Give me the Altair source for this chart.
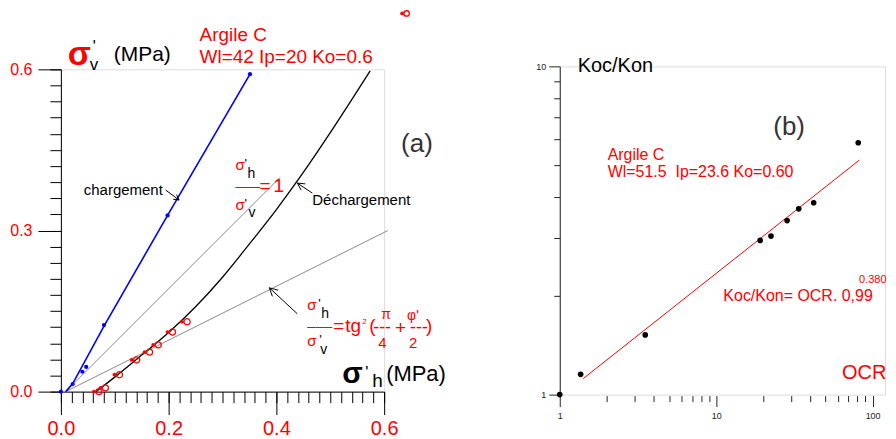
import math
import altair as alt
import pandas as pd

FONT = "Liberation Sans"
RED = "#ff0000"
BLUE = "#0000ff"
BLACK = "#000000"

# ---------------- Panel (a) data ----------------
blue_x = [0.0, 0.022, 0.040, 0.047, 0.080, 0.198, 0.351]
blue_y = [0.0, 0.014, 0.037, 0.046, 0.124, 0.328, 0.591]
charge_x = [0.009, 0.022, 0.080, 0.198, 0.351]
charge_y = [0.0, 0.015, 0.122, 0.328, 0.591]
red_x = [0.066, 0.078, 0.104, 0.136, 0.160, 0.176, 0.2025, 0.2296]
red_y = [0.0, 0.007, 0.0315, 0.059, 0.0735, 0.087, 0.111, 0.130]
dech_x = [0.065, 0.10, 0.15, 0.20, 0.25, 0.30, 0.35, 0.40, 0.45, 0.50, 0.574]
dech_y = [0.0, 0.027, 0.068, 0.110, 0.158, 0.213, 0.275, 0.339, 0.408, 0.482, 0.597]
k1_x = [0.009, 0.407]
k1_y = [0.0, 0.399]
kp_x = [0.009, 0.607]
kp_y = [0.0, 0.300]
a_major_x = [0.0, 0.2, 0.4, 0.6]
a_minor_x = [round(0.02 * i, 2) for i in range(31)]
a_major_y = [0.0, 0.3, 0.6]
a_minor_y = [round(0.03 * i, 2) for i in range(21)]

# ---------------- Panel (b) data ----------------
ocr = [1.0, 1.36, 3.52, 19.1, 22.4, 28.4, 33.7, 42.0, 80.9]
ratio = [1.0, 1.153, 1.52, 2.95, 3.04, 3.39, 3.68, 3.84, 5.85]
fit_ocr = [1.41, 82.2]
fit_ratio = [1.118, 5.18]
b_major_x = [1, 10, 100]
b_minor_x = [2, 3, 4, 5, 6, 7, 8, 9, 20, 30, 40, 50, 60, 70, 80, 90]
b_major_y = [1, 10]
b_minor_y = [2, 3, 4, 5, 6, 7, 8, 9]

WA, HA = 324, 323
WB, HB = 326, 329
OA = (60, 69)
OB = (560, 66)


def txt(s, px, py, origin, size=15, color=BLACK, weight="normal", align="left"):
    return alt.Chart(pd.DataFrame({"t": [s]})).mark_text(
        font=FONT, fontSize=size, color=color, fontWeight=weight,
        align=align, baseline="alphabetic"
    ).encode(x=alt.value(px - origin[0]), y=alt.value(py - origin[1]), text="t:N")


def seg(p1, p2, origin, color=BLACK, width=1.0):
    return alt.Chart(pd.DataFrame({"a": [0]})).mark_rule(color=color, strokeWidth=width).encode(
        x=alt.value(p1[0] - origin[0]), y=alt.value(p1[1] - origin[1]),
        x2=alt.value(p2[0] - origin[0]), y2=alt.value(p2[1] - origin[1]))


def arrow(tail, head, origin, hl=7.0, ang=28):
    dx, dy = head[0] - tail[0], head[1] - tail[1]
    L = math.hypot(dx, dy)
    bx, by = -dx / L, -dy / L
    out = [seg(tail, head, origin)]
    for s in (1, -1):
        a = math.radians(ang) * s
        rx = bx * math.cos(a) - by * math.sin(a)
        ry = bx * math.sin(a) + by * math.cos(a)
        out.append(seg(head, (head[0] + hl * rx, head[1] + hl * ry), origin))
    return out


# ---------------- Panel (a) ----------------
xs_a = alt.Scale(domain=[0, 0.6], nice=False, zero=False)
ys_a = alt.Scale(domain=[0, 0.6], nice=False, zero=False)

ax_major_x = alt.Axis(values=a_major_x, format=".1f", tickSize=23, labelFontSize=20, labelColor=RED,
                      labelFont=FONT, labelPadding=4, domainColor=BLACK, tickColor=BLACK, grid=False,
                      title=None, orient="bottom", labelFlush=False, labelOverlap=False)
ax_minor_x = alt.Axis(values=a_minor_x, tickSize=11, labels=False, domain=False, grid=False,
                      title=None, orient="bottom", tickColor=BLACK)
ax_major_y = alt.Axis(values=a_major_y, format=".1f", tickSize=23, labelFontSize=16, labelColor=RED,
                      labelFont=FONT, labelPadding=6, domainColor=BLACK, tickColor=BLACK, grid=False,
                      title=None, orient="left", labelFlush=False, labelOverlap=False)
ax_minor_y = alt.Axis(values=a_minor_y, tickSize=11, labels=False, domain=False, grid=False,
                      title=None, orient="left", tickColor=BLACK)

df_blue = pd.DataFrame({"x": blue_x, "y": blue_y})
df_charge = pd.DataFrame({"x": charge_x, "y": charge_y})
df_red = pd.DataFrame({"x": red_x, "y": red_y})
df_dech = pd.DataFrame({"x": dech_x, "y": dech_y})
df_k1 = pd.DataFrame({"x": k1_x, "y": k1_y})
df_kp = pd.DataFrame({"x": kp_x, "y": kp_y})

blue_pts = alt.Chart(df_blue).mark_circle(color=BLUE, size=18, opacity=1).encode(
    x=alt.X("x:Q", scale=xs_a, axis=ax_major_x),
    y=alt.Y("y:Q", scale=ys_a, axis=ax_major_y))
k1_line = alt.Chart(df_k1).mark_line(color="#8a8a8a", strokeWidth=1).encode(
    x=alt.X("x:Q", scale=xs_a, axis=ax_minor_x),
    y=alt.Y("y:Q", scale=ys_a, axis=ax_minor_y))
kp_line = alt.Chart(df_kp).mark_line(color="#8a8a8a", strokeWidth=1).encode(
    x=alt.X("x:Q", scale=xs_a, axis=None), y=alt.Y("y:Q", scale=ys_a, axis=None))
charge_line = alt.Chart(df_charge).mark_line(color=BLUE, strokeWidth=1.6).encode(
    x=alt.X("x:Q", scale=xs_a, axis=None), y=alt.Y("y:Q", scale=ys_a, axis=None))
dech_line = alt.Chart(df_dech).mark_line(color=BLACK, strokeWidth=1.3, interpolate="monotone").encode(
    x=alt.X("x:Q", scale=xs_a, axis=None), y=alt.Y("y:Q", scale=ys_a, axis=None))
red_dot = alt.Chart(df_red).mark_point(filled=True, shape="circle", size=14, color=RED, opacity=1,
                                       xOffset=-2.5).encode(
    x=alt.X("x:Q", scale=xs_a, axis=None), y=alt.Y("y:Q", scale=ys_a, axis=None))
red_ring = alt.Chart(df_red).mark_point(filled=False, shape="circle", size=38, color=RED, opacity=1,
                                        strokeWidth=1.3, xOffset=2.5).encode(
    x=alt.X("x:Q", scale=xs_a, axis=None), y=alt.Y("y:Q", scale=ys_a, axis=None))

# legend symbol remnant (top right of panel a)
sym_df = pd.DataFrame({"a": [0]})
sym_dot = alt.Chart(sym_df).mark_point(filled=True, shape="circle", size=14, color=RED, opacity=1).encode(
    x=alt.value(402 - OA[0]), y=alt.value(13 - OA[1]))
sym_ring = alt.Chart(sym_df).mark_point(filled=False, shape="circle", size=30, color=RED, opacity=1,
                                        strokeWidth=1.3).encode(
    x=alt.value(406.5 - OA[0]), y=alt.value(13 - OA[1]))

ann_a = [
    # y title
    txt("σ", 67, 65, OA, size=34, color=RED, weight="bold"),
    txt("'", 92, 52, OA, size=16),
    txt("v", 89, 70, OA, size=17),
    txt("(MPa)", 113, 61, OA, size=21),
    txt("Argile C", 199, 41, OA, size=19, color=RED),
    txt("Wl=42 Ip=20 Ko=0.6", 199, 63, OA, size=19, color=RED),
    txt("(a)", 401, 152, OA, size=26, color="#333333"),
    txt("chargement", 83, 195, OA, size=15),
    txt("Déchargement", 312, 205, OA, size=15),
    # sigma'h / sigma'v = 1
    txt("σ", 235, 170, OA, size=15, color=RED),
    txt("'", 244, 168, OA, size=13),
    txt("h", 247, 178, OA, size=14),
    txt("–––", 235, 191, OA, size=15, color=RED),
    txt("=", 259, 192, OA, size=19, color=RED),
    txt("1", 273, 192, OA, size=19, color=RED),
    txt("σ", 235, 210, OA, size=15, color=RED),
    txt("'", 244, 208, OA, size=13),
    txt("v", 248, 217, OA, size=14),
    # sigma'h / sigma'v = tg^2(pi/4 + phi'/2)
    txt("σ", 307, 310, OA, size=15, color=RED),
    txt("'", 318, 308, OA, size=13),
    txt("h", 321, 318, OA, size=14),
    txt("–––", 307, 331, OA, size=15, color=RED),
    txt("=", 333, 332, OA, size=19, color=RED),
    txt("tg", 345, 332, OA, size=19, color=RED),
    txt("2", 362, 324, OA, size=8, color=RED),
    txt("(", 369, 332, OA, size=19, color=RED),
    txt("π", 381, 319, OA, size=14, color=RED),
    txt("---", 373, 333, OA, size=18, color=RED),
    txt("+", 395, 334, OA, size=19, color=RED),
    txt("φ'", 407, 320, OA, size=14, color=RED),
    txt("---", 410, 333, OA, size=18, color=RED),
    txt(")", 426, 332, OA, size=19, color=RED),
    txt("4", 378, 348, OA, size=15, color=RED),
    txt("2", 409, 348, OA, size=15, color=RED),
    txt("σ", 307, 346, OA, size=15, color=RED),
    txt("'", 319, 344, OA, size=13),
    txt("v", 320, 354, OA, size=14),
    # x title
    txt("σ", 342, 383, OA, size=30, weight="bold"),
    txt("'", 365, 378, OA, size=17),
    txt("h", 372, 387, OA, size=19),
    txt("(MPa)", 386, 381, OA, size=22),
]
arrows_a = (arrow((165, 190), (178.5, 200), OA, hl=6)
            + arrow((312, 193), (297, 183), OA, hl=8)
            + arrow((297, 314), (269, 288), OA, hl=9))

chart_a = alt.layer(
    blue_pts, k1_line, kp_line, charge_line, dech_line, red_dot, red_ring,
    sym_dot, sym_ring, *arrows_a, *ann_a
).properties(width=WA, height=HA).resolve_axis(x="independent", y="independent")

# ---------------- Panel (b) ----------------
xs_b = alt.Scale(type="log", domain=[1, 120], nice=False)
ys_b = alt.Scale(type="log", domain=[1, 10], nice=False)

bx_major = alt.Axis(values=b_major_x, format="d", tickSize=11, labelFontSize=9, labelColor="#222222",
                    labelFont=FONT, labelPadding=5, domain=False, tickColor="#222222", grid=False,
                    title=None, orient="bottom", labelFlush=False, labelOverlap=False, offset=1)
bx_minor = alt.Axis(values=b_minor_x, tickSize=6, labels=False, domain=False, grid=False,
                    title=None, orient="bottom", tickColor="#222222", offset=1)
by_major = alt.Axis(values=b_major_y, format="d", tickSize=11, labelFontSize=9, labelColor="#222222",
                    labelFont=FONT, labelPadding=3, domainColor="#222222", tickColor="#222222",
                    grid=False, title=None, orient="left", labelFlush=False, labelOverlap=False)
by_minor = alt.Axis(values=b_minor_y, tickSize=6, labels=False, domain=False, grid=False,
                    title=None, orient="left", tickColor="#222222")

df_b = pd.DataFrame({"ocr": ocr, "ratio": ratio})
df_fit = pd.DataFrame({"ocr": fit_ocr, "ratio": fit_ratio})

fit_line = alt.Chart(df_fit).mark_line(color=RED, strokeWidth=1).encode(
    x=alt.X("ocr:Q", scale=xs_b, axis=bx_minor),
    y=alt.Y("ratio:Q", scale=ys_b, axis=by_minor))
b_pts = alt.Chart(df_b).mark_circle(color=BLACK, size=32, opacity=1).encode(
    x=alt.X("ocr:Q", scale=xs_b, axis=bx_major),
    y=alt.Y("ratio:Q", scale=ys_b, axis=by_major))

ann_b = [
    txt("Koc/Kon", 578, 72, OB, size=20),
    txt("(b)", 774, 135, OB, size=26, color="#333333"),
    txt("Argile C", 608, 160, OB, size=16, color=RED),
    txt("Wl=51.5\u00a0\u00a0Ip=23.6 Ko=0.60", 608, 177, OB, size=16, color=RED),
    txt("Koc/Kon= OCR. 0,99", 724, 301, OB, size=16, color=RED),
    txt("0.380", 860, 283, OB, size=11, color=RED),
    txt("OCR", 843, 379, OB, size=20, color=RED),
]

chart_b = alt.layer(fit_line, b_pts, *ann_b).properties(width=WB, height=HB).resolve_axis(
    x="independent", y="independent")

chart = alt.hconcat(chart_a, chart_b, spacing=176, bounds="flush", center=True).properties(
    padding={"left": 1, "top": -1, "right": 0, "bottom": 0}
).configure_view(stroke=None).configure(font=FONT)

chart.save("out.html", embed_options={"renderer": "svg", "actions": False})
